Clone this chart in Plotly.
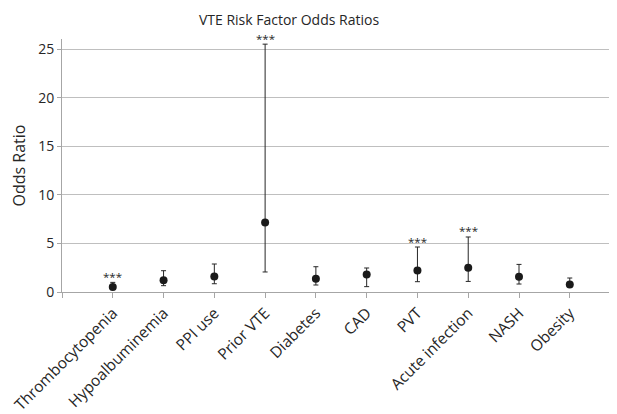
import plotly.graph_objects as go

categories = ["Thrombocytopenia", "Hypoalbuminemia", "PPI use", "Prior VTE", "Diabetes",
              "CAD", "PVT", "Acute infection", "NASH", "Obesity"]
odds_ratio = [0.51, 1.2, 1.6, 7.16, 1.37, 1.81, 2.22, 2.5, 1.57, 0.78]
ci_upper = [0.99, 2.19, 2.88, 25.5, 2.6, 2.47, 4.63, 5.66, 2.84, 1.44]
ci_lower = [0.24, 0.65, 0.85, 2.06, 0.72, 0.55, 1.06, 1.09, 0.82, 0.51]
significant = [True, False, False, True, False, False, True, True, False, False]
y_ticks = [0, 5, 10, 15, 20, 25]

xpos = list(range(len(categories)))
err_plus = [u - v for u, v in zip(ci_upper, odds_ratio)]
err_minus = [v - l for v, l in zip(odds_ratio, ci_lower)]

FONT = "Open Sans"
TXT = "#262626"
GRID = "#bfbfbf"

# page body has an 8px margin: figure is drawn 8px right and down
W, H = 609, 406

fig = go.Figure()
fig.add_trace(go.Scatter(
    x=xpos, y=odds_ratio, mode="markers",
    marker=dict(color="#1a1a1a", size=8),
    error_y=dict(type="data", symmetric=False, array=err_plus, arrayminus=err_minus,
                 color="#262626", thickness=1, width=2.5),
    showlegend=False, cliponaxis=False,
))

for i, sig in enumerate(significant):
    if sig:
        fig.add_annotation(x=xpos[i], y=ci_upper[i], text="***", showarrow=False,
                           yanchor="bottom", yshift=-3.5,
                           font=dict(family=FONT, size=11.5, color="#262626"))

fig.update_layout(
    width=W, height=H,
    margin=dict(l=54, r=0, t=31, b=122),
    paper_bgcolor="white", plot_bgcolor="white",
    title=dict(text="VTE Risk Factor Odds Ratios", x=281 / W, xanchor="center",
               y=1 - 12 / H, yanchor="middle",
               font=dict(family=FONT, size=14, color=TXT)),
    font=dict(family=FONT, color=TXT),
)
fig.update_xaxes(
    range=[-1, 9.93], automargin=False,
    tickmode="array", tickvals=[-1] + xpos, ticktext=[""] + categories,
    tickangle=-45, tickfont=dict(family=FONT, size=15.5, color=TXT),
    showline=True, linecolor="#a6a6a6", linewidth=1,
    ticks="outside", ticklen=5, tickcolor="#a6a6a6",
    showgrid=False, zeroline=False,
)
fig.update_yaxes(
    range=[0, 26.03], automargin=False,
    tickmode="array", tickvals=y_ticks,
    tickfont=dict(family=FONT, size=14, color=TXT),
    showline=True, linecolor="#a6a6a6", linewidth=1,
    ticks="outside", ticklen=4, tickcolor="#a6a6a6",
    showgrid=True, gridcolor=GRID, gridwidth=1, zeroline=False,
    title=dict(text="Odds Ratio", font=dict(family=FONT, size=16, color=TXT), standoff=12),
)

fig.write_html("out.html")
